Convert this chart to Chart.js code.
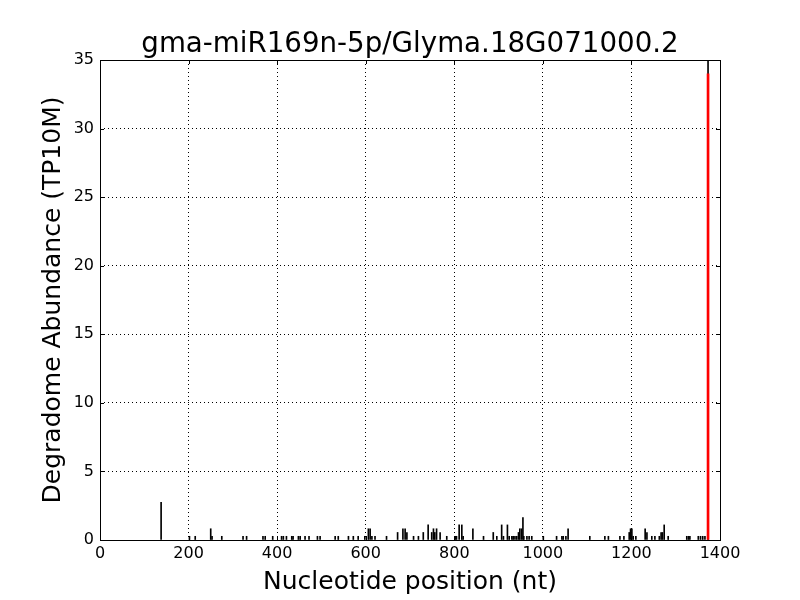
<!DOCTYPE html>
<html>
<head>
<meta charset="utf-8">
<title>gma-miR169n-5p/Glyma.18G071000.2</title>
<script src="https://cdn.jsdelivr.net/npm/chart.js@4/dist/chart.umd.min.js"></script>
<style>
  html, body { margin: 0; padding: 0; background: #fff; }
  canvas { display: block; }
</style>
</head>
<body>
<canvas id="tplot" width="800" height="600"></canvas>
<script>
const chartTitle = 'gma-miR169n-5p/Glyma.18G071000.2';
const xLabel = 'Nucleotide position (nt)';
const yLabel = 'Degradome Abundance (TP10M)';

// Posiciones (nt) y abundancias (TP10M) de todos los fragmentos
const positions = [
    138, 202, 215, 250, 253, 275, 323, 331, 368, 373,
    390, 410, 414, 421, 433, 436, 448, 452, 463, 472,
    491, 497, 531, 538, 561, 572, 583, 598, 606, 610,
    614, 621, 647, 672, 684, 689, 693, 708, 719, 730,
    741, 749, 753, 756, 760, 768, 783, 802, 805, 811,
    817, 820, 842, 866, 888, 896, 907, 911, 920, 924,
    930, 933, 937, 941, 945, 948, 952, 955, 957, 964,
    969, 975, 1001, 1031, 1043, 1046, 1052, 1057, 1106, 1140,
    1148, 1174, 1183, 1195, 1198, 1201, 1204, 1210, 1231, 1235,
    1246, 1253, 1263, 1267, 1270, 1274, 1283, 1325, 1329, 1332,
    1351, 1356, 1361, 1366, 1373
];
const abundances = [
    2.74, 0.27, 0.27, 0.82, 0.27, 0.27, 0.27, 0.27, 0.27, 0.27,
    0.27, 0.27, 0.27, 0.27, 0.27, 0.27, 0.27, 0.27, 0.27, 0.27,
    0.27, 0.27, 0.27, 0.27, 0.27, 0.27, 0.27, 0.27, 0.82, 0.82,
    0.27, 0.27, 0.27, 0.55, 0.82, 0.82, 0.55, 0.27, 0.27, 0.55,
    1.10, 0.55, 0.82, 0.55, 0.82, 0.55, 0.27, 0.27, 0.27, 1.10,
    1.10, 0.27, 0.82, 0.27, 0.55, 0.27, 1.10, 0.27, 1.10, 0.27,
    0.27, 0.27, 0.27, 0.27, 0.55, 0.82, 0.82, 1.64, 0.27, 0.27,
    0.27, 0.27, 0.27, 0.27, 0.27, 0.27, 0.27, 0.82, 0.27, 0.27,
    0.27, 0.27, 0.27, 0.55, 0.82, 0.82, 0.27, 0.27, 0.82, 0.55,
    0.27, 0.27, 0.27, 0.55, 0.55, 1.10, 0.27, 0.27, 0.27, 0.27,
    0.27, 0.27, 0.27, 0.27, 35
];

// Sitio de corte del miRNA (en rojo)
const sitePositions = [1373];
const siteAbundances = [34.0];

const xTicks = [0, 200, 400, 600, 800, 1000, 1200, 1400];
const yTicks = [0, 5, 10, 15, 20, 25, 30, 35];

/**
 * @brief Dibuja el marco del eje y las marcas hacia dentro (estilo matplotlib clásico).
 */
const framePlugin = {
    id: 'frame',
    afterDraw(chart) {
        const {ctx, chartArea: a, scales} = chart;
        ctx.save();
        ctx.strokeStyle = '#000';
        ctx.lineWidth = 1;
        ctx.beginPath();
        xTicks.forEach(v => {
            const px = Math.round(scales.x.getPixelForValue(v)) + 0.5;
            ctx.moveTo(px, a.bottom); ctx.lineTo(px, a.bottom - 4);
            ctx.moveTo(px, a.top); ctx.lineTo(px, a.top + 4);
        });
        yTicks.forEach(v => {
            const py = Math.round(scales.y.getPixelForValue(v)) + 0.5;
            ctx.moveTo(a.left, py); ctx.lineTo(a.left + 4, py);
            ctx.moveTo(a.right, py); ctx.lineTo(a.right - 4, py);
        });
        ctx.stroke();
        ctx.strokeRect(Math.round(a.left) + 0.5, Math.round(a.top) + 0.5,
                       Math.round(a.right - a.left), Math.round(a.bottom - a.top));
        ctx.restore();
    }
};

function toPoints(xs, ys) {
    return xs.map((x, i) => ({x: x, y: ys[i]}));
}

function initChart(canvasId) {
    const ctx = document.getElementById(canvasId).getContext('2d');
    Chart.defaults.font.family = "'DejaVu Sans', sans-serif";
    Chart.defaults.color = '#000';

    new Chart(ctx, {
        type: 'bar',
        data: {
            datasets: [
                {
                    label: 'Degradome',
                    data: toPoints(positions, abundances),
                    backgroundColor: '#000',
                    borderWidth: 0,
                    barThickness: 1,
                    grouped: false,
                    order: 2
                },
                {
                    label: 'Sitio',
                    data: toPoints(sitePositions, siteAbundances),
                    backgroundColor: '#ff0000',
                    borderWidth: 0,
                    barThickness: 2,
                    grouped: false,
                    order: 1
                }
            ]
        },
        options: {
            responsive: false,
            animation: false,
            layout: { padding: { left: 0, right: 80, top: 0, bottom: 0 } },
            plugins: {
                legend: { display: false },
                tooltip: { enabled: false },
                title: {
                    display: true,
                    fullSize: false, // centrado sobre el área del gráfico
                    text: chartTitle,
                    font: { size: 27.7, weight: 'normal', lineHeight: 1 },
                    padding: { top: 31, bottom: 1.3 }
                }
            },
            scales: {
                x: {
                    type: 'linear',
                    offset: false,
                    min: 0,
                    max: 1400,
                    afterFit: s => { s.height = 60; },
                    ticks: {
                        stepSize: 200,
                        font: { size: 16 },
                        padding: 4,
                        maxRotation: 0,
                        autoSkip: false,
                        callback: v => String(v)
                    },
                    grid: { color: '#000', lineWidth: 1, drawTicks: false, offset: false },
                    border: { display: false, dash: [1, 3] },
                    title: {
                        display: true,
                        text: xLabel,
                        font: { size: 25 },
                        padding: { top: 0, bottom: 3 }
                    }
                },
                y: {
                    min: 0,
                    max: 35,
                    afterFit: s => { s.width = 100; },
                    ticks: { stepSize: 5, font: { size: 16 }, padding: 6 },
                    grid: { color: '#000', lineWidth: 1, drawTicks: false },
                    border: { display: false, dash: [1, 3] },
                    title: {
                        display: true,
                        text: yLabel,
                        font: { size: 25 },
                        padding: { top: 38, bottom: 0 }
                    }
                }
            }
        },
        plugins: [framePlugin]
    });
}

initChart('tplot');
</script>
</body>
</html>
